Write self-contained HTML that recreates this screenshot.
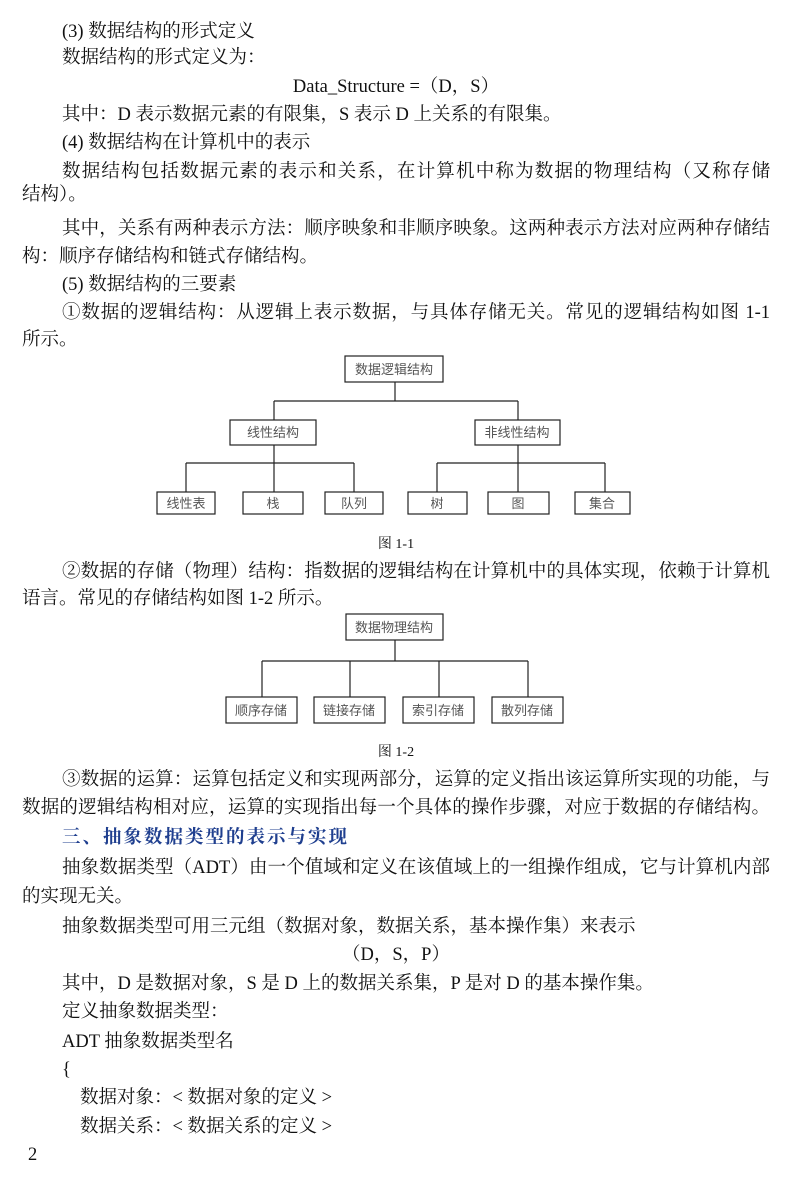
<!DOCTYPE html>
<html><head><meta charset="utf-8"><style>
body{margin:0;background:#fff;}
#p{position:relative;width:790px;height:1202px;font-family:"Liberation Serif","Noto Serif CJK SC",serif;font-size:18.5px;color:#111;}
.l{position:absolute;left:22px;width:748px;line-height:22px;white-space:nowrap;margin-top:2px;}
.i{left:62px;width:708px;}
.j{text-align:justify;text-align-last:justify;white-space:normal;}
.c{text-align:center;}
.h{color:#1f3f8f;font-weight:bold;letter-spacing:2px;}
svg{position:absolute;left:0;top:0;}
svg text{font-family:"Noto Sans CJK SC",sans-serif;font-size:13px;fill:#555;text-anchor:middle;}
</style></head><body><div id="p">
<div class="l i" style="top:19px">(3) 数据结构的形式定义</div>
<div class="l i" style="top:45px">数据结构的形式定义为：</div>
<div class="l c" style="top:74px">Data_Structure =（D，S）</div>
<div class="l i" style="top:102px">其中：D 表示数据元素的有限集，S 表示 D 上关系的有限集。</div>
<div class="l i" style="top:130px">(4) 数据结构在计算机中的表示</div>
<div class="l i j" style="top:159px">数据结构包括数据元素的表示和关系，在计算机中称为数据的物理结构（又称存储</div>
<div class="l" style="top:182px">结构）。</div>
<div class="l i j" style="top:216px">其中，关系有两种表示方法：顺序映象和非顺序映象。这两种表示方法对应两种存储结</div>
<div class="l" style="top:244px">构：顺序存储结构和链式存储结构。</div>
<div class="l i" style="top:272px">(5) 数据结构的三要素</div>
<div class="l i j" style="top:300px">①数据的逻辑结构：从逻辑上表示数据，与具体存储无关。常见的逻辑结构如图 1-1</div>
<div class="l" style="top:327px">所示。</div>
<svg width="790" height="1202" fill="none" stroke="#222" stroke-width="1.2">
<rect x="345" y="356" width="98" height="26"/>
<line x1="395" y1="382" x2="395" y2="401"/><line x1="274" y1="401" x2="518" y2="401"/>
<line x1="274" y1="401" x2="274" y2="420"/><line x1="518" y1="401" x2="518" y2="420"/>
<rect x="230" y="420" width="86" height="25"/><rect x="475" y="420" width="85" height="25"/>
<line x1="274" y1="445" x2="274" y2="492"/><line x1="518" y1="445" x2="518" y2="492"/>
<line x1="186" y1="463" x2="354" y2="463"/><line x1="437" y1="463" x2="605" y2="463"/>
<line x1="186" y1="463" x2="186" y2="492"/><line x1="354" y1="463" x2="354" y2="492"/>
<line x1="437" y1="463" x2="437" y2="492"/><line x1="605" y1="463" x2="605" y2="492"/>
<rect x="157" y="492" width="58" height="22"/><rect x="243" y="492" width="60" height="22"/><rect x="325" y="492" width="58" height="22"/>
<rect x="408" y="492" width="59" height="22"/><rect x="488" y="492" width="61" height="22"/><rect x="575" y="492" width="55" height="22"/>
<rect x="346" y="614" width="97" height="26"/>
<line x1="395" y1="640" x2="395" y2="661"/><line x1="262" y1="661" x2="528" y2="661"/>
<line x1="262" y1="661" x2="262" y2="697"/><line x1="350" y1="661" x2="350" y2="697"/><line x1="439" y1="661" x2="439" y2="697"/><line x1="528" y1="661" x2="528" y2="697"/>
<rect x="226" y="697" width="71" height="26"/><rect x="314" y="697" width="71" height="26"/><rect x="403" y="697" width="71" height="26"/><rect x="492" y="697" width="71" height="26"/>
<g stroke="none">
<text x="394" y="374">数据逻辑结构</text>
<text x="273" y="437">线性结构</text><text x="517" y="437">非线性结构</text>
<text x="186" y="508">线性表</text><text x="273" y="508">栈</text><text x="354" y="508">队列</text>
<text x="437" y="508">树</text><text x="518" y="508">图</text><text x="602" y="508">集合</text>
<text x="394" y="632">数据物理结构</text>
<text x="261" y="715">顺序存储</text><text x="349" y="715">链接存储</text><text x="438" y="715">索引存储</text><text x="527" y="715">散列存储</text>
</g></svg>
<div class="l c" style="top:532px;font-size:14px">图 1-1</div>
<div class="l i j" style="top:559px">②数据的存储（物理）结构：指数据的逻辑结构在计算机中的具体实现，依赖于计算机</div>
<div class="l" style="top:586px">语言。常见的存储结构如图 1-2 所示。</div>
<div class="l c" style="top:740px;font-size:14px">图 1-2</div>
<div class="l i j" style="top:767px">③数据的运算：运算包括定义和实现两部分，运算的定义指出该运算所实现的功能，与</div>
<div class="l j" style="top:795px">数据的逻辑结构相对应，运算的实现指出每一个具体的操作步骤，对应于数据的存储结构。</div>
<div class="l i h" style="top:825px">三、抽象数据类型的表示与实现</div>
<div class="l i j" style="top:855px">抽象数据类型（ADT）由一个值域和定义在该值域上的一组操作组成，它与计算机内部</div>
<div class="l" style="top:884px">的实现无关。</div>
<div class="l i" style="top:914px">抽象数据类型可用三元组（数据对象，数据关系，基本操作集）来表示</div>
<div class="l c" style="top:942px">（D，S，P）</div>
<div class="l i" style="top:971px">其中，D 是数据对象，S 是 D 上的数据关系集，P 是对 D 的基本操作集。</div>
<div class="l i" style="top:999px">定义抽象数据类型：</div>
<div class="l i" style="top:1029px">ADT 抽象数据类型名</div>
<div class="l i" style="top:1057px">{</div>
<div class="l" style="top:1085px;left:80px">数据对象：&lt; 数据对象的定义 &gt;</div>
<div class="l" style="top:1114px;left:80px">数据关系：&lt; 数据关系的定义 &gt;</div>
<div class="l" style="top:1142px;left:28px">2</div>
</div></body></html>
